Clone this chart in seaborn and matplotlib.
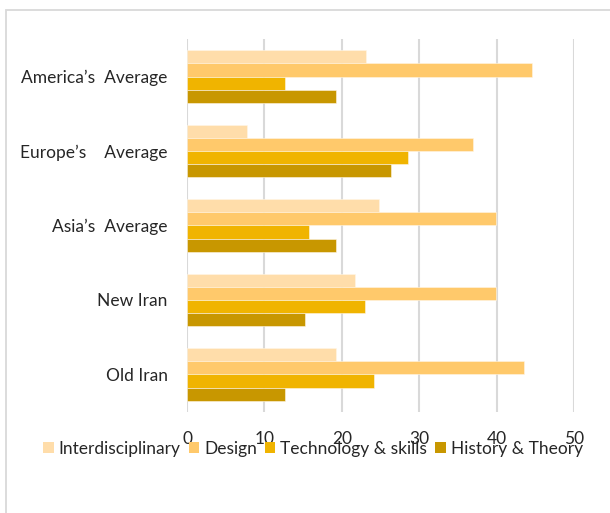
import matplotlib
matplotlib.use("Agg")
import matplotlib.pyplot as plt
import pandas as pd
import seaborn as sns
from matplotlib.patches import Rectangle

# categories top to bottom, as in the chart
regions = ["America\u2019s  Average", "Europe\u2019s    Average", "Asia\u2019s  Average",
           "New Iran", "Old Iran"]
series = ["Interdisciplinary", "Design", "Technology & skills", "History & Theory"]

interdisciplinary = [23.1, 7.7, 24.8, 21.7, 19.2]
design = [44.6, 36.9, 39.9, 39.9, 43.5]
technology = [12.6, 28.5, 15.7, 23.0, 24.2]
history = [19.3, 26.4, 19.2, 15.3, 12.7]

xticks = [0, 10, 20, 30, 40, 50]
colors = ["#FFDDAA", "#FFC96B", "#F0B400", "#C89700"]

rows = []
for name, vals in zip(series, [interdisciplinary, design, technology, history]):
    for r, v in zip(regions, vals):
        rows.append({"region": r, "series": name, "value": v})
df = pd.DataFrame(rows)

sns.set_style("white")
plt.rcParams["font.family"] = ["Lato", "DejaVu Sans"]
text_color = "#262626"

fig = plt.figure(figsize=(6.1, 5.13), dpi=100)
ax = fig.add_axes([0.3066, 0.1975, 0.6344, 0.7259])

sns.barplot(data=df, y="region", x="value", hue="series", order=regions,
            hue_order=series, palette=colors, saturation=1, orient="h",
            width=0.704, edgecolor="#FFF6E6", linewidth=0.4, ax=ax, legend=False)

ax.set_xlim(0, 50)
ax.set_xticks(xticks)
ax.set_xlabel("")
ax.set_ylabel("")
ax.grid(axis="x", color="#D9D9D9", linewidth=1.5)
ax.grid(axis="y", visible=False)
ax.set_axisbelow(True)
for s in ax.spines.values():
    s.set_visible(False)
ax.tick_params(axis="x", length=0, pad=14, labelsize=12.5, labelcolor=text_color)
ax.tick_params(axis="y", length=0, pad=14, labelsize=12.5, labelcolor=text_color)

# outer chart frame
fig.patches.append(Rectangle((6 / 610, -0.1), 1.2, 1 - 10 / 513 + 0.1,
                             transform=fig.transFigure, fill=False,
                             edgecolor="#D9D9D9", linewidth=1.3))

handles = [Rectangle((0, 0), 1, 1, facecolor=c, edgecolor="none") for c in colors]
leg = fig.legend(handles, series, loc="center", bbox_to_anchor=(313 / 610, 1 - 449 / 513),
                 ncol=4, frameon=False, fontsize=12.5, handlelength=0.6,
                 handleheight=0.6, handletextpad=0.3, columnspacing=0.45,
                 borderaxespad=0)
for t in leg.get_texts():
    t.set_color(text_color)

fig.savefig("out.png", dpi=100)
